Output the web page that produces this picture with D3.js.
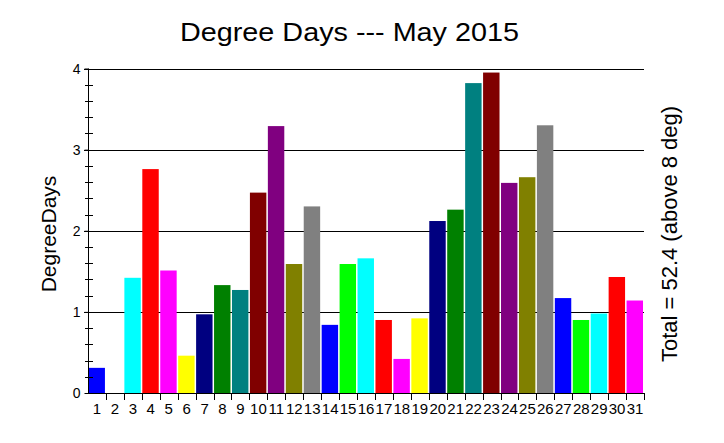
<!DOCTYPE html>
<html>
<head>
<meta charset="utf-8">
<script src="https://cdn.jsdelivr.net/npm/d3@7"></script>
<style>
  html, body { margin: 0; padding: 0; background: #fff; }
  svg { display: block; }
  text { font-family: "Liberation Sans", Arial, sans-serif; fill: #000; }
</style>
</head>
<body>
<svg id="chart" width="724" height="443"></svg>
<script>
const days = d3.range(1, 32).map(String);
const degreeDays = [0.31, 0.00, 1.42, 2.76, 1.51, 0.46, 0.97, 1.33, 1.27, 2.47,
                    3.29, 1.59, 2.30, 0.84, 1.59, 1.66, 0.90, 0.42, 0.92, 2.12,
                    2.26, 3.82, 3.95, 2.59, 2.66, 3.30, 1.17, 0.90, 0.98, 1.43, 1.14];
const palette = ["#0000ff", "#00ff00", "#00ffff", "#ff0000", "#ff00ff", "#ffff00", "#000080",
                 "#008000", "#008080", "#800000", "#800080", "#808000", "#808080"];
const yTicks = [0, 1, 2, 3, 4];
const title = "Degree Days --- May 2015";
const yTitle = "DegreeDays";
const totalLabel = "Total = 52.4 (above 8 deg)";

const svg = d3.select("#chart");
const pLeft = 88, pRight = 644, pTop = 68.5, pBottom = 393;

const x = d3.scaleBand().domain(days).range([pLeft, pRight]).padding(0);
const y = d3.scaleLinear().domain([0, 4]).range([pBottom, pTop]);

// gridlines
svg.append("g").selectAll("line").data(yTicks.filter(d => d > 0)).join("line")
  .attr("x1", pLeft - 4).attr("x2", pRight)
  .attr("y1", d => Math.round(y(d)) + 0.5).attr("y2", d => Math.round(y(d)) + 0.5)
  .attr("stroke", "#000").attr("stroke-width", 1);

// bars
svg.append("g").selectAll("rect").data(degreeDays).join("rect")
  .attr("x", (d, i) => x(days[i]) + 0.5)
  .attr("width", x.bandwidth() - 1.5)
  .attr("y", d => y(d))
  .attr("height", d => pBottom - y(d))
  .attr("fill", (d, i) => palette[i % palette.length]);

// y axis
const yAxis = d3.axisLeft(y).tickValues(yTicks).tickSize(4).tickPadding(4).tickFormat(d3.format("d"));
const yg = svg.append("g").attr("transform", `translate(${pLeft + 0.5},0)`).call(yAxis);
yg.select(".domain").attr("stroke", "#000").attr("d", `M0,${pTop}V${pBottom}`);
yg.selectAll("text").style("font-size", "14px").attr("dy", "0.35em");
// minor ticks
svg.append("g").selectAll("line").data(d3.range(0.2, 4, 0.2).filter(v => Math.abs(v - Math.round(v)) > 0.01)).join("line")
  .attr("x1", pLeft - 3).attr("x2", pLeft + 5)
  .attr("y1", d => Math.round(y(d)) + 0.5).attr("y2", d => Math.round(y(d)) + 0.5)
  .attr("stroke", "#000");

// x axis
const xAxis = d3.axisBottom(x).tickSize(0).tickPadding(10);
const xg = svg.append("g").attr("transform", `translate(0,${pBottom + 0.5})`).call(xAxis);
xg.select(".domain").attr("stroke", "#000").attr("d", `M${pLeft},0H${pRight}`);
xg.selectAll("text").style("font-size", "15px");
// tick marks at band boundaries
svg.append("g").selectAll("line").data(days).join("line")
  .attr("x1", d => Math.round(x(d) + x.bandwidth()) + 0.5)
  .attr("x2", d => Math.round(x(d) + x.bandwidth()) + 0.5)
  .attr("y1", pBottom).attr("y2", pBottom + 7)
  .attr("stroke", "#000");

// titles
svg.append("text").attr("x", 349.5).attr("y", 41).attr("text-anchor", "middle")
  .attr("textLength", 339).attr("lengthAdjust", "spacingAndGlyphs")
  .style("font-size", "26px").text(title);
svg.append("text").attr("transform", "translate(56,234) rotate(-90)").attr("text-anchor", "middle")
  .style("font-size", "21px").text(yTitle);
svg.append("text").attr("transform", "translate(677,234) rotate(-90)").attr("text-anchor", "middle")
  .style("font-size", "22px").text(totalLabel);
</script>
</body>
</html>
